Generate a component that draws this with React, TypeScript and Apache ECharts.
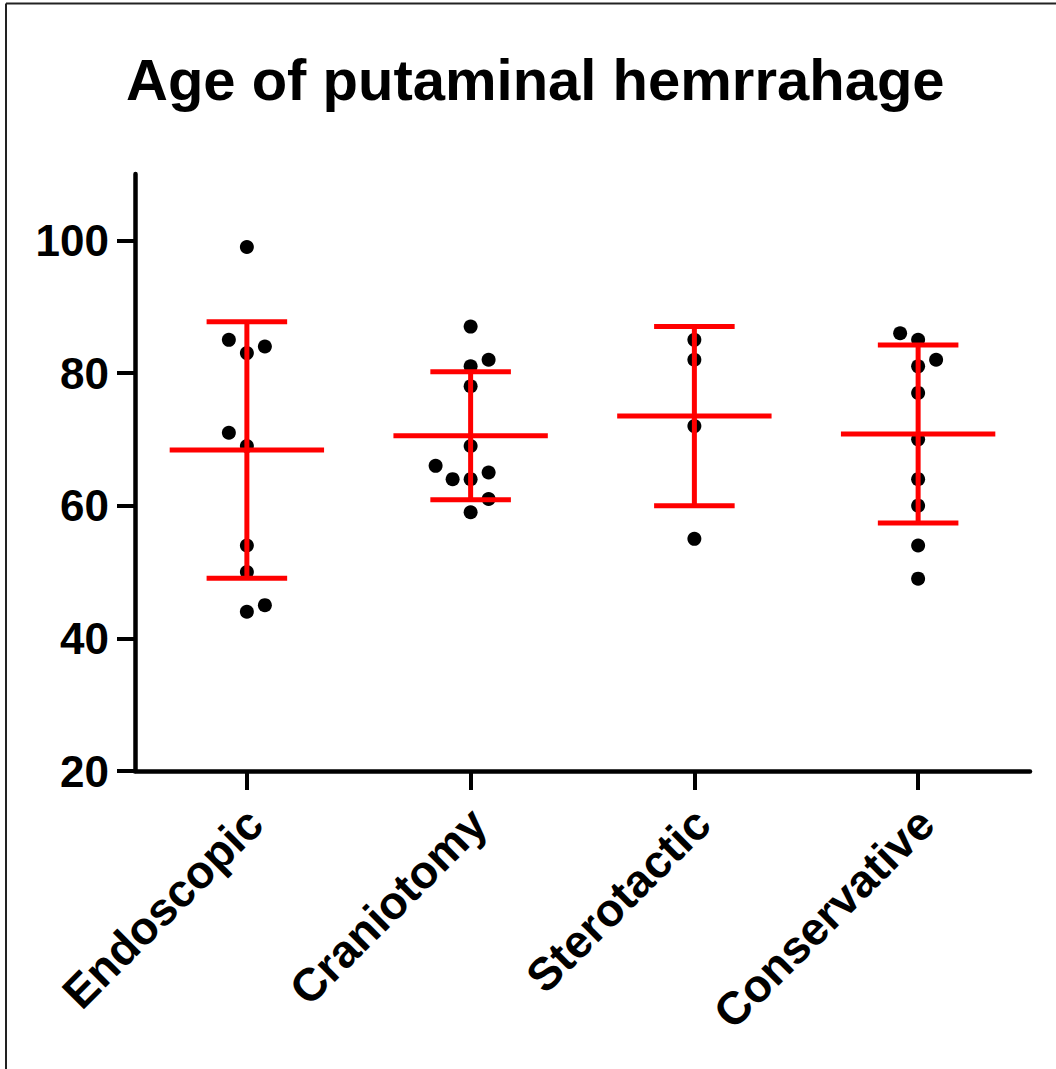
import { useEffect, useRef } from "react";
import * as echarts from "echarts";

const chartTitle = "Age of putaminal hemrrahage";
const categories = ["Endoscopic", "Craniotomy", "Sterotactic", "Conservative"];

const endoscopic = [99, 85, 84, 83, 71, 69, 54, 50, 45, 44];
const craniotomy = [87, 82, 81, 78, 69, 66, 64, 64, 65, 61, 59];
const sterotactic = [85, 82, 72, 55];
const conservative = [86, 85, 82, 81, 77, 70, 64, 60, 54, 49];

// horizontal jitter of each dot, in pixels
const endoscopicJitter = [0, -18, 18, 0, -18, 0, 0, 0, 18, 0];
const craniotomyJitter = [0, 18, 0, 0, 0, -35, -18, 0, 18, 18, 0];
const sterotacticJitter = [0, 0, 0, 0];
const conservativeJitter = [-18, 0, 18, 0, 0, 0, 0, 0, 0, 0];

const yTicks = [20, 40, 60, 80, 100];
const yMin = 20;
const yMax = 110;

const groups = [endoscopic, craniotomy, sterotactic, conservative];
const jitters = [endoscopicJitter, craniotomyJitter, sterotacticJitter, conservativeJitter];

function mean(a: number[]) {
  return a.reduce((s, v) => s + v, 0) / a.length;
}
function sd(a: number[]) {
  const m = mean(a);
  return Math.sqrt(a.reduce((s, v) => s + (v - m) * (v - m), 0) / (a.length - 1));
}

const FONT = "'Liberation Sans', Arial, Helvetica, sans-serif";

export default function App() {
  const ref = useRef<HTMLDivElement>(null);
  useEffect(() => {
    if (!ref.current) return;
    const chart = echarts.init(ref.current, undefined, { renderer: "svg" });
    const scatterData: any[] = [];
    groups.forEach((g, gi) => {
      g.forEach((v, k) => {
        scatterData.push({ value: [gi, v], symbolOffset: [jitters[gi][k], 0] });
      });
    });
    const statData = groups.map((g, gi) => [gi, mean(g), sd(g)]);
    const red = "#ff0000";
    const option: any = {
      animation: false,
      backgroundColor: "#ffffff",
      title: {
        text: chartTitle,
        left: 121,
        top: 45,
        textStyle: { fontFamily: FONT, fontWeight: "bold", fontSize: 58, color: "#000" },
      },
      grid: { left: 135, right: 26, top: 174, bottom: 298, containLabel: false },
      xAxis: {
        type: "category",
        data: categories,
        boundaryGap: true,
        axisLine: { show: true, lineStyle: { color: "#000", width: 4.5 } },
        axisTick: { show: true, alignWithLabel: true, length: 19, lineStyle: { color: "#000", width: 4 } },
        axisLabel: {
          rotate: 45,
          margin: 37,
          verticalAlign: "top",
          lineHeight: 22,
          fontFamily: FONT,
          fontWeight: "bold",
          fontSize: 46,
          color: "#000",
        },
        splitLine: { show: false },
      },
      yAxis: {
        type: "value",
        min: yMin,
        max: yMax,
        interval: 20,
        axisLine: { show: true, lineStyle: { color: "#000", width: 4.5 } },
        axisTick: { show: true, length: 18, lineStyle: { color: "#000", width: 4 }, customValues: yTicks },
        axisLabel: {
          margin: 26,
          fontFamily: FONT,
          fontWeight: "bold",
          fontSize: 44,
          color: "#000",
          customValues: yTicks,
        },
        splitLine: { show: false },
      },
      series: [
        {
          type: "scatter",
          data: scatterData,
          symbol: "circle",
          symbolSize: 14,
          itemStyle: { color: "#000", opacity: 1 },
          z: 2,
        },
        {
          type: "custom",
          data: statData,
          z: 3,
          renderItem: (params: any, api: any) => {
            const i = api.value(0);
            const m = api.value(1);
            const s = api.value(2);
            const c = api.coord([i, m]);
            const t = api.coord([i, m + s]);
            const b = api.coord([i, m - s]);
            const band = api.size([1, 0])[0];
            const mh = band * 0.345;
            const ch = band * 0.18;
            const st = { stroke: red, lineWidth: 5 };
            return {
              type: "group",
              children: [
                { type: "line", shape: { x1: c[0], y1: t[1], x2: c[0], y2: b[1] }, style: st },
                { type: "line", shape: { x1: c[0] - ch, y1: t[1], x2: c[0] + ch, y2: t[1] }, style: st },
                { type: "line", shape: { x1: c[0] - ch, y1: b[1], x2: c[0] + ch, y2: b[1] }, style: st },
                { type: "line", shape: { x1: c[0] - mh, y1: c[1], x2: c[0] + mh, y2: c[1] }, style: st },
              ],
            };
          },
        },
      ],
      graphic: [
        { type: "line", z: 100, shape: { x1: 6, y1: 3.5, x2: 1056, y2: 3.5 }, style: { stroke: "#222", lineWidth: 2 } },
        { type: "line", z: 100, shape: { x1: 6, y1: 3.5, x2: 6, y2: 1069 }, style: { stroke: "#222", lineWidth: 2 } },
      ],
    };
    chart.setOption(option);
    return () => chart.dispose();
  }, []);
  return (
    <div
      ref={ref}
      style={{ position: "absolute", left: 0, top: 0, width: 1056, height: 1069, background: "#fff" }}
    />
  );
}
